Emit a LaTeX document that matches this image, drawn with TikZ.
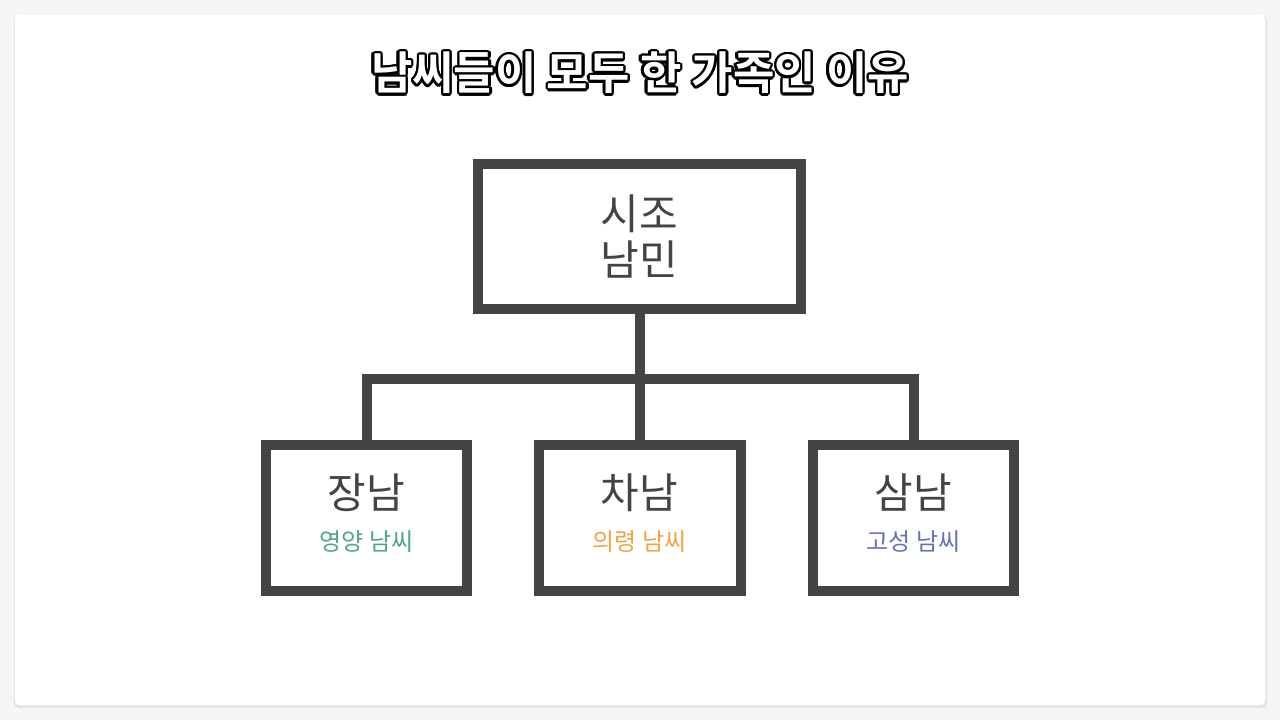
\documentclass[tikz,border=0pt]{standalone}
\usepackage{fontspec}
\usetikzlibrary{calc}
\newfontfamily\kr{Noto Sans CJK KR}
\newfontfamily\krb{Noto Sans CJK KR Bold}
\definecolor{dk}{HTML}{444444}
\definecolor{cg}{HTML}{4FA58A}
\definecolor{co}{HTML}{F2A444}
\definecolor{cb}{HTML}{6670B8}
\tikzset{box/.style={draw=dk,line width=10pt,fill=white},
 ln/.style={draw=dk,line width=10pt},
 big/.style={font=\kr\fontsize{42}{50}\selectfont,text=dk,align=center},
 sub/.style={font=\kr\fontsize{24}{28}\selectfont},
 ttlstyle/.style={font=\krb\fontsize{45}{52}\selectfont}}
\newcommand{\ttl}{남씨들이 모두 한 가족인 이유}
\begin{document}
\begin{tikzpicture}[x=1pt,y=-1pt]
\useasboundingbox (0,0) rectangle (1280,720);
\fill[black!4] (0,0) rectangle (1280,720);
\fill[black!10,rounded corners=4pt] (14,16) rectangle (1267,708);
\fill[white,rounded corners=4pt] (15,15) rectangle (1265,705);
\foreach \a in {0,22.5,...,337.5}
  \node[ttlstyle,text=black] at ($(640,73)+(\a:2.4)$) {\ttl};
\node[ttlstyle,text=white] (title) at (640,73) {\ttl};
\node[box,minimum width=323pt,minimum height=145pt] (top) at (639.5,236.5) {};
\node[big] at (top) {시조\\[-4pt]남민};
\node[box,minimum width=201pt,minimum height=146pt] (b1) at (366.5,518) {};
\node[box,minimum width=202pt,minimum height=146pt] (b2) at (639.5,518) {};
\node[box,minimum width=201pt,minimum height=146pt] (b3) at (913.5,518) {};
\coordinate (j) at (639.5,379);
\draw[ln] (top.south) -- (b2.north);
\draw[ln,line cap=rect] (b1.north) |- (j) -| (b3.north);
\foreach \b/\t/\s/\c in {b1/장남/영양 남씨/cg,b2/차남/의령 남씨/co,b3/삼남/고성 남씨/cb}{
  \node[big] at ($(\b)+(0,-25)$) {\t};
  \node[sub,text=\c] at ($(\b)+(0,24)$) {\s};
}
\end{tikzpicture}
\end{document}
